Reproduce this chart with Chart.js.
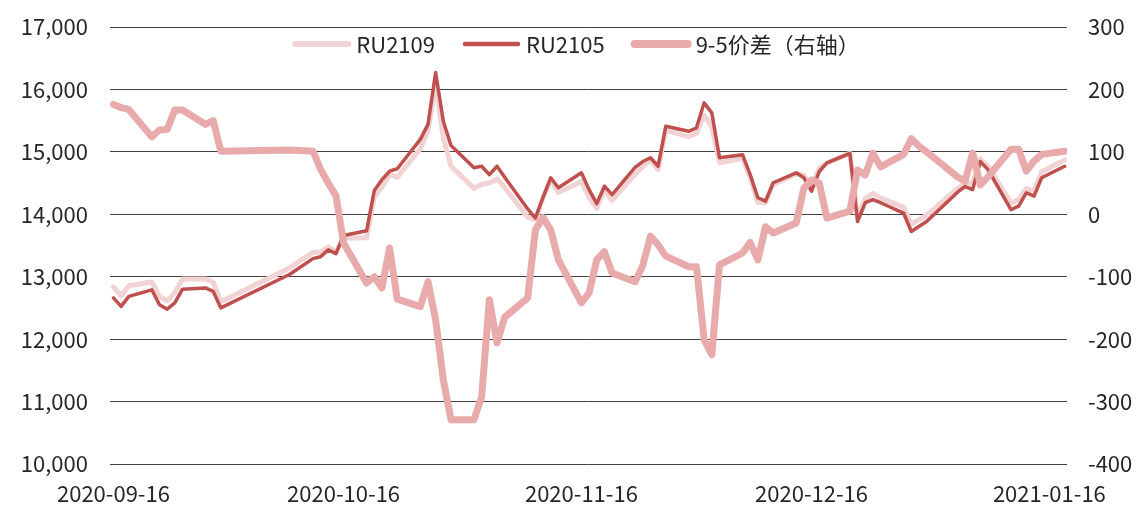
<!DOCTYPE html>
<html>
<head>
<meta charset="utf-8">
<script src="https://cdn.jsdelivr.net/npm/chart.js@4.4.0/dist/chart.umd.min.js"></script>
<style>
  html, body { margin: 0; padding: 0; background: #fff; }
</style>
</head>
<body>
<canvas id="chart" width="1144" height="506"></canvas>
<script>
const dates = [
  '2020-09-16','2020-09-17','2020-09-18','2020-09-21','2020-09-22','2020-09-23','2020-09-24','2020-09-25','2020-09-28','2020-09-29','2020-09-30',
  '2020-10-09','2020-10-12','2020-10-13','2020-10-14','2020-10-15','2020-10-16','2020-10-19','2020-10-20','2020-10-21','2020-10-22','2020-10-23','2020-10-26','2020-10-27','2020-10-28','2020-10-29','2020-10-30',
  '2020-11-02','2020-11-03','2020-11-04','2020-11-05','2020-11-06','2020-11-09','2020-11-10','2020-11-11','2020-11-12','2020-11-13','2020-11-16','2020-11-17','2020-11-18','2020-11-19','2020-11-20','2020-11-23','2020-11-24','2020-11-25','2020-11-26','2020-11-27','2020-11-30',
  '2020-12-01','2020-12-02','2020-12-03','2020-12-04','2020-12-07','2020-12-08','2020-12-09','2020-12-10','2020-12-11','2020-12-14','2020-12-15','2020-12-16','2020-12-17','2020-12-18','2020-12-21','2020-12-22','2020-12-23','2020-12-24','2020-12-25','2020-12-28','2020-12-29','2020-12-30','2020-12-31',
  '2021-01-04','2021-01-05','2021-01-06','2021-01-07','2021-01-08','2021-01-11','2021-01-12','2021-01-13','2021-01-14','2021-01-15','2021-01-18'
];

const ru2109 = [
  12835,12695,12855,12915,12685,12615,12745,12965,12965,12915,12600,
  13145,13390,13390,13480,13400,13615,13625,14280,14435,14635,14595,15050,15330,16100,15225,14770,
  14415,14480,14500,14565,14430,13950,13915,14265,14560,14350,14525,14270,14095,14390,14220,14640,14765,14870,14720,15345,15245,
  15300,15585,15400,14825,14895,14590,14190,14190,14475,14650,14625,14425,14735,14820,14980,13955,14250,14335,14260,14115,13845,13915,13985,
  14410,14500,14495,14890,14775,14180,14235,14415,14375,14680,14870
];

const ru2105 = [
  12660,12525,12685,12790,12550,12480,12580,12800,12820,12765,12500,
  13040,13290,13320,13430,13370,13660,13735,14380,14555,14690,14730,15200,15440,16270,15490,15100,
  14745,14770,14635,14770,14595,14085,13940,14270,14585,14425,14665,14395,14170,14450,14315,14750,14845,14905,14770,15410,15330,
  15385,15785,15625,14905,14955,14635,14265,14210,14505,14665,14585,14370,14685,14825,14975,13885,14185,14235,14185,14020,13725,13805,13885,
  14350,14445,14395,14845,14715,14075,14130,14345,14290,14585,14770
];

// 9-5价差, right axis
const spread = [
  176,171,168,124,135,136,167,167,144,150,101,
  103,101,72,50,30,-46,-110,-100,-118,-54,-136,-148,-108,-169,-265,-329,
  -329,-292,-137,-206,-165,-134,-25,-5,-25,-73,-142,-126,-73,-60,-94,-108,-82,-35,-49,-67,-84,
  -84,-201,-225,-81,-62,-45,-73,-20,-30,-14,42,55,50,-6,5,71,63,98,76,96,121,109,100,
  60,53,98,47,60,104,104,69,85,96,101
];

const tickDates = ['2020-09-16','2020-10-16','2020-11-16','2020-12-16','2021-01-16'];

const DAY = 86400000;
const t0 = Date.parse(dates[0]);
const toDay = s => Math.round((Date.parse(s) - t0) / DAY);
const fromDay = d => new Date(t0 + d * DAY).toISOString().slice(0, 10);
const pts = arr => arr.map((v, i) => ({ x: toDay(dates[i]), y: v }));

const FONT = '"Noto Sans CJK SC", "Noto Sans", sans-serif';
const TEXT = '#262626';

// one-row legend drawn inside the plot area, under the top gridline
const insideLegend = {
  id: 'insideLegend',
  afterDraw(chart) {
    const { ctx, chartArea } = chart;
    const sets = chart.data.datasets;
    const lineLen = 53, gapText = 8, gapItem = 30;
    ctx.save();
    ctx.font = `22px ${FONT}`;
    ctx.textBaseline = 'middle';
    const widths = sets.map(ds => lineLen + gapText + ctx.measureText(ds.label).width);
    const total = widths.reduce((a, b) => a + b, 0) + gapItem * (sets.length - 1);
    let x = (chartArea.left + chartArea.right) / 2 - 11 - total / 2;
    const y = chartArea.top + 17;
    sets.forEach((ds, i) => {
      ctx.strokeStyle = ds.borderColor;
      ctx.lineWidth = ds.legendWidth;
      ctx.lineCap = 'round';
      ctx.beginPath();
      ctx.moveTo(x, y);
      ctx.lineTo(x + lineLen, y);
      ctx.stroke();
      ctx.fillStyle = TEXT;
      ctx.fillText(ds.label, x + lineLen + gapText, y + 1);
      x += widths[i] + gapItem;
    });
    ctx.restore();
  }
};

// fixed axis sizes so the plot box lands where the original has it
const fixY = w => scale => {
  scale.width = w;
  scale.paddingTop = 0;
  scale.paddingBottom = 0;
};

new Chart(document.getElementById('chart'), {
  type: 'line',
  data: {
    datasets: [
      {
        label: 'RU2109',
        data: pts(ru2109),
        yAxisID: 'y',
        borderColor: '#F2D3D3',
        borderWidth: 5,
        legendWidth: 6,
        order: 2
      },
      {
        label: 'RU2105',
        data: pts(ru2105),
        yAxisID: 'y',
        borderColor: '#C0504D',
        borderWidth: 3.5,
        legendWidth: 4.5,
        order: 1
      },
      {
        label: '9-5价差（右轴）',
        data: pts(spread),
        yAxisID: 'y1',
        borderColor: '#E8AAAA',
        borderWidth: 7,
        legendWidth: 8,
        order: 0
      }
    ]
  },
  options: {
    responsive: false,
    animation: false,
    devicePixelRatio: 1,
    layout: { padding: { top: 27, left: 0, right: 0, bottom: 0 } },
    elements: {
      point: { radius: 0 },
      line: { tension: 0, borderCapStyle: 'round', borderJoinStyle: 'round' }
    },
    plugins: {
      tooltip: { enabled: false },
      legend: { display: false }
    },
    scales: {
      x: {
        type: 'linear',
        min: -0.45,
        max: 124.3,
        afterBuildTicks: scale => {
          scale.ticks = tickDates.map(s => ({ value: toDay(s) }));
        },
        afterFit: scale => { scale.height = 42; },
        grid: { display: false },
        border: { display: false },
        ticks: {
          autoSkip: false,
          maxRotation: 0,
          padding: 8,
          color: TEXT,
          font: { family: FONT, size: 22 },
          callback: v => fromDay(v)
        }
      },
      y: {
        position: 'left',
        min: 10000,
        max: 17000,
        afterFit: fixY(110),
        grid: { color: '#404040', lineWidth: 1, drawTicks: false },
        border: { display: false },
        ticks: {
          stepSize: 1000,
          padding: 22,
          color: TEXT,
          font: { family: FONT, size: 22 },
          callback: v => v.toLocaleString('en-US')
        }
      },
      y1: {
        position: 'right',
        min: -400,
        max: 300,
        afterFit: fixY(77),
        grid: { display: false, drawTicks: false },
        border: { display: false },
        ticks: {
          stepSize: 100,
          padding: 21,
          color: TEXT,
          font: { family: FONT, size: 22 }
        }
      }
    }
  },
  plugins: [insideLegend]
});
</script>
</body>
</html>
